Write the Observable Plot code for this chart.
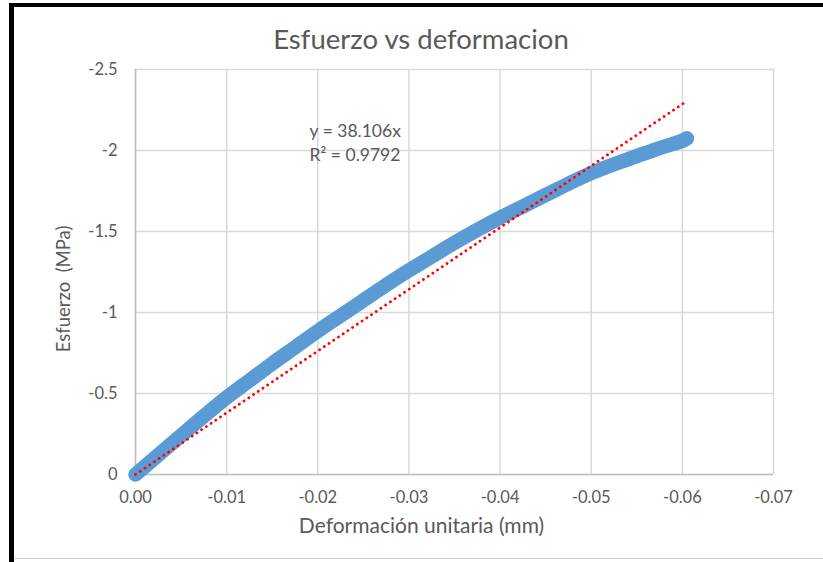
<!DOCTYPE html>
<html>
<head>
<meta charset="utf-8">
<script src="https://cdn.jsdelivr.net/npm/d3@7"></script>
<script src="https://cdn.jsdelivr.net/npm/@observablehq/plot@0.6"></script>
<style>
  html, body { margin: 0; padding: 0; background: #fff; }
  #wrap { position: relative; width: 823px; height: 562px; overflow: hidden; font-family: Lato, "Open Sans", sans-serif; }
  #chart { position: absolute; left: 0; top: 0; }
  .bTop { position: absolute; left: 9px; top: 3px; width: 814px; height: 4px; background: #000; }
  .bLeft { position: absolute; left: 9px; top: 3px; width: 5px; height: 559px; background: #000; }
  .bBot { position: absolute; left: 14px; top: 558px; width: 809px; height: 1px; background: #d0d0d0; }
  #title { position: absolute; left: 0; width: 842px; top: 22px; text-align: center; font-size: 27.5px; color: #595959; }
</style>
</head>
<body>
<div id="wrap">
  <div id="chart"></div>
  <div class="bTop"></div>
  <div class="bLeft"></div>
  <div class="bBot"></div>
  <div id="title">Esfuerzo vs deformacion</div>
</div>
<script>
// Strain (deformación unitaria) values
const strain = [0, -0.0025, -0.005, -0.0075, -0.01, -0.0125, -0.015, -0.0175, -0.02, -0.0225,
  -0.025, -0.0275, -0.03, -0.0325, -0.035, -0.0375, -0.04, -0.0425, -0.045, -0.0475,
  -0.05, -0.0525, -0.055, -0.0575, -0.06, -0.0605];
// Stress (esfuerzo, MPa) values
const stress = [0, -0.12, -0.24, -0.36, -0.475, -0.58, -0.685, -0.785, -0.885, -0.98,
  -1.075, -1.17, -1.26, -1.345, -1.43, -1.51, -1.585, -1.655, -1.725, -1.795,
  -1.86, -1.915, -1.965, -2.015, -2.06, -2.075];
// Linear trendline through origin: y = 38.106x
const trendSlope = 38.106;
const trendX = [0, -0.0603];
const xTicks = [0, -0.01, -0.02, -0.03, -0.04, -0.05, -0.06, -0.07];
const yTicks = [0, -0.5, -1, -1.5, -2, -2.5];
const eqLines = ["y = 38.106x", "R² = 0.9792"];
const eqX = [-0.0191, -0.0191];
const eqY = [-2.12, -1.97];
const xLabel = "Deformación unitaria (mm)";
const yLabel = "Esfuerzo  (MPa)";

const data = strain.map((s, i) => ({x: s, y: stress[i]}));
const trend = trendX.map(x => ({x, y: trendSlope * x}));
const eq = eqLines.map((t, i) => ({t, x: eqX[i], y: eqY[i]}));

const plot = Plot.plot({
  width: 823,
  height: 562,
  marginLeft: 135,
  marginRight: 50,
  marginTop: 69,
  marginBottom: 88,
  style: {fontFamily: "Lato, 'Open Sans', sans-serif", fontSize: "16px", color: "#595959", background: "transparent", overflow: "visible"},
  x: {domain: [0, -0.07]},
  y: {domain: [0, -2.5]},
  marks: [
    Plot.gridX(xTicks, {stroke: "#d9d9d9", strokeOpacity: 1, strokeWidth: 1.5}),
    Plot.gridY(yTicks, {stroke: "#d9d9d9", strokeOpacity: 1, strokeWidth: 1.5}),
    Plot.ruleX([0], {stroke: "#bfbfbf", strokeWidth: 1.5}),
    Plot.ruleY([0], {stroke: "#bfbfbf", strokeWidth: 1.5}),
    Plot.axisX(xTicks, {tickSize: 0, tickPadding: 17, tickFormat: d => d === 0 ? "0.00" : d.toFixed(2), label: null, fill: "#595959", fontSize: 16.5}),
    Plot.axisY(yTicks, {tickSize: 0, tickPadding: 18, tickFormat: d => String(d), label: null, fill: "#595959", fontSize: 16.5}),
    Plot.line(data, {x: "x", y: "y", curve: "catmull-rom", stroke: "#5b9bd5", strokeWidth: 14.5, strokeLinecap: "round", strokeLinejoin: "round"}),
    Plot.line(trend, {x: "x", y: "y", stroke: "#ff0000", strokeWidth: 2.8, strokeDasharray: "0.1 5.6", strokeLinecap: "round"}),
    Plot.text(eq, {x: "x", y: "y", text: "t", textAnchor: "start", fill: "#595959", fontSize: 17.5}),
    Plot.text([xLabel], {frameAnchor: "bottom", textAnchor: "middle", dx: -33, dy: 58, fill: "#595959", fontSize: 21}),
    Plot.text([yLabel], {frameAnchor: "left", textAnchor: "middle", dx: -71, dy: 17, rotate: -90, fill: "#595959", fontSize: 18.5})
  ]
});
document.getElementById("chart").appendChild(plot);
</script>
</body>
</html>
